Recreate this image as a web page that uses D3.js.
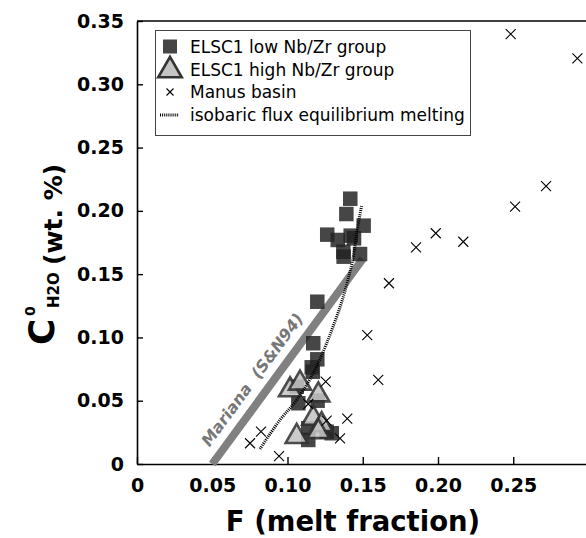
<!DOCTYPE html>
<html>
<head>
<meta charset="utf-8">
<script src="https://cdn.jsdelivr.net/npm/d3@7"></script>
<style>
  body { margin: 0; background: #fff; }
  svg { display: block; font-family: "DejaVu Sans", sans-serif; }
</style>
</head>
<body>
<svg id="chart" width="586" height="538"></svg>
<script>
// ELSC1 low Nb/Zr group (F, C0 H2O wt.%)
const lowF = [0.1417, 0.1391, 0.1506, 0.1264, 0.1334, 0.1420, 0.1442, 0.1371, 0.1482, 0.1373,
  0.1198, 0.1171, 0.1198, 0.1161, 0.1168, 0.1061, 0.1072, 0.1200, 0.1138, 0.1138, 0.1260, 0.1294];
const lowC = [0.2096, 0.1975, 0.1883, 0.1812, 0.1770, 0.1804, 0.1783, 0.1677, 0.1659, 0.1638,
  0.1282, 0.0954, 0.0827, 0.0764, 0.0729, 0.0611, 0.0480, 0.0500, 0.0282, 0.0190, 0.0255, 0.0243];

// ELSC1 high Nb/Zr group
const highF = [0.1017, 0.1083, 0.1205, 0.1171, 0.1227, 0.1061, 0.1205];
const highC = [0.0585, 0.0638, 0.0545, 0.0360, 0.0310, 0.0216, 0.0255];

// Manus basin
const manusF = [0.2483, 0.2926, 0.2718, 0.2512, 0.1985, 0.1854, 0.2168, 0.1674, 0.1530, 0.1603,
  0.1397, 0.1254, 0.1138, 0.1260, 0.1349, 0.0824, 0.0751, 0.0944];
const manusC = [0.3397, 0.3205, 0.2196, 0.2033, 0.1823, 0.1712, 0.1756, 0.1428, 0.1019, 0.0664,
  0.0358, 0.0650, 0.0474, 0.0342, 0.0203, 0.0255, 0.0164, 0.0063];

// isobaric flux equilibrium melting curve
const fluxF = [0.0817, 0.0950, 0.1061, 0.1171, 0.1260, 0.1371, 0.1437, 0.1460, 0.1493];
const fluxC = [0.0119, 0.0348, 0.0506, 0.0717, 0.0954, 0.1322, 0.1638, 0.1823, 0.2046];

// Mariana (S&N94) trend
const marianaF = [0.05, 0.15];
const marianaC = [0.0, 0.162];

const xTicks = [0, 0.05, 0.10, 0.15, 0.20, 0.25];
const yTicks = [0, 0.05, 0.10, 0.15, 0.20, 0.25, 0.30, 0.35];
const legendLabels = ['ELSC1 low Nb/Zr group', 'ELSC1 high Nb/Zr group', 'Manus basin', 'isobaric flux equilibrium melting'];

const svg = d3.select('#chart');

const x = d3.scaleLinear().domain([0, 0.3]).range([137, 588.5]);
const y = d3.scaleLinear().domain([0, 0.35]).range([464, 21]);

const tickFmt = d => d === 0 ? '0' : d3.format('.2f')(d);

// Axes
const xAxis = svg.append('g')
  .attr('transform', `translate(0,${y(0)})`)
  .call(d3.axisBottom(x).tickValues(xTicks).tickFormat(tickFmt)
    .tickSizeInner(-7).tickSizeOuter(0).tickPadding(15));

const yAxis = svg.append('g')
  .attr('transform', `translate(${x(0)},0)`)
  .call(d3.axisLeft(y).tickValues(yTicks).tickFormat(tickFmt)
    .tickSizeInner(-6).tickSizeOuter(0).tickPadding(13));

[xAxis, yAxis].forEach(ax => {
  ax.select('.domain').attr('stroke', '#000').attr('stroke-width', 1.6);
  ax.selectAll('.tick line').attr('stroke', '#000').attr('stroke-width', 1.4);
  ax.selectAll('.tick text')
    .attr('fill', '#000')
    .style('font-family', '"DejaVu Sans", sans-serif')
    .style('font-weight', 'bold')
    .style('font-size', '19px');
});

// Top frame line
svg.append('line')
  .attr('x1', x(0)).attr('x2', x(0.3))
  .attr('y1', y(0.35)).attr('y2', y(0.35))
  .attr('stroke', '#000').attr('stroke-width', 1.6);

// Mariana line
const marianaPts = marianaF.map((f, i) => [x(f), y(marianaC[i])]);
svg.append('path')
  .attr('d', d3.line()(marianaPts))
  .attr('stroke', '#808080')
  .attr('stroke-width', 8)
  .attr('fill', 'none');

// Mariana label, placed along the line
const [p0, p1] = marianaPts;
const ang = Math.atan2(p1[1] - p0[1], p1[0] - p0[0]) * 180 / Math.PI;
const len = Math.hypot(p1[0] - p0[0], p1[1] - p0[1]);
const ux = (p1[0] - p0[0]) / len, uy = (p1[1] - p0[1]) / len;
const t = 0.36;
const lx = p0[0] + (p1[0] - p0[0]) * t + uy * 12;
const ly = p0[1] + (p1[1] - p0[1]) * t - ux * 12;
svg.append('text')
  .attr('transform', `translate(${lx},${ly}) rotate(${ang})`)
  .attr('text-anchor', 'middle')
  .attr('fill', '#777')
  .style('font-size', '16px')
  .style('font-weight', 'bold')
  .style('font-style', 'italic')
  .style('white-space', 'pre')
  .text('Mariana  (S&N94)');

// Low Nb/Zr squares
const sq = 14.5;
svg.append('g').selectAll('rect')
  .data(lowF.map((f, i) => [f, lowC[i]]))
  .join('rect')
  .attr('x', d => x(d[0]) - sq / 2)
  .attr('y', d => y(d[1]) - sq / 2)
  .attr('width', sq)
  .attr('height', sq)
  .attr('fill', '#222')
  .attr('fill-opacity', 0.84);

// High Nb/Zr triangles
const tri = d3.symbol(d3.symbolTriangle).size(210)();
svg.append('g').selectAll('path')
  .data(highF.map((f, i) => [f, highC[i]]))
  .join('path')
  .attr('d', tri)
  .attr('transform', d => `translate(${x(d[0])},${y(d[1])})`)
  .attr('fill', '#c4c4c4')
  .attr('stroke', '#333')
  .attr('stroke-width', 2.6)
  .attr('stroke-linejoin', 'miter')
  .attr('opacity', 0.88);

// isobaric flux melting curve
svg.append('path')
  .attr('d', d3.line().curve(d3.curveCatmullRom)(fluxF.map((f, i) => [x(f), y(fluxC[i])])))
  .attr('fill', 'none')
  .attr('stroke', '#000')
  .attr('stroke-width', 3)
  .attr('stroke-dasharray', '1,1.1');

// Manus basin crosses
const cross = h => `M${-h},${-h}L${h},${h}M${-h},${h}L${h},${-h}`;
svg.append('g').selectAll('path')
  .data(manusF.map((f, i) => [f, manusC[i]]))
  .join('path')
  .attr('d', cross(5))
  .attr('transform', d => `translate(${x(d[0])},${y(d[1])})`)
  .attr('stroke', '#000')
  .attr('stroke-width', 1.1)
  .attr('fill', 'none');

// Legend
const legend = svg.append('g');
legend.append('rect')
  .attr('x', 155.5).attr('y', 30.5)
  .attr('width', 315).attr('height', 105)
  .attr('fill', '#fff')
  .attr('stroke', '#444')
  .attr('stroke-width', 1);

const rowY = [46.5, 69.5, 92, 115];
legend.append('rect')
  .attr('x', 170 - 7).attr('y', rowY[0] - 7)
  .attr('width', 14).attr('height', 14)
  .attr('fill', '#222').attr('fill-opacity', 0.84);
legend.append('path')
  .attr('d', d3.symbol(d3.symbolTriangle).size(240)())
  .attr('transform', `translate(170,${rowY[1] + 1})`)
  .attr('fill', '#c4c4c4').attr('stroke', '#333').attr('stroke-width', 2.6);
legend.append('path')
  .attr('d', cross(3.5))
  .attr('transform', `translate(170,${rowY[2]})`)
  .attr('stroke', '#000').attr('stroke-width', 1.1);
legend.append('line')
  .attr('x1', 160).attr('x2', 179)
  .attr('y1', rowY[3]).attr('y2', rowY[3])
  .attr('stroke', '#000').attr('stroke-width', 3)
  .attr('stroke-dasharray', '1,1.1');

legend.selectAll('text.lbl')
  .data(legendLabels)
  .join('text')
  .attr('class', 'lbl')
  .attr('x', 190)
  .attr('y', (d, i) => rowY[i] + 6)
  .style('font-size', '17px')
  .attr('fill', '#000')
  .text(d => d);

// X axis title
svg.append('text')
  .attr('x', 353).attr('y', 531)
  .attr('text-anchor', 'middle')
  .style('font-size', '27.5px')
  .style('font-weight', 'bold')
  .text('F (melt fraction)');

// Y axis title: C with superscript 0 and subscript H2O
const yt = svg.append('g').attr('transform', 'rotate(-90)');
yt.append('text')
  .attr('x', -345).attr('y', 54)
  .style('font-size', '36px').style('font-weight', 'bold')
  .text('C');
yt.append('text')
  .attr('x', -316).attr('y', 35)
  .style('font-size', '14px').style('font-weight', 'bold')
  .text('0');
yt.append('text')
  .attr('x', -308).attr('y', 59)
  .style('font-size', '15px').style('font-weight', 'bold')
  .text('H2O');
yt.append('text')
  .attr('x', -265).attr('y', 62)
  .style('font-size', '25px').style('font-weight', 'bold')
  .text('(wt. %)');
</script>
</body>
</html>
